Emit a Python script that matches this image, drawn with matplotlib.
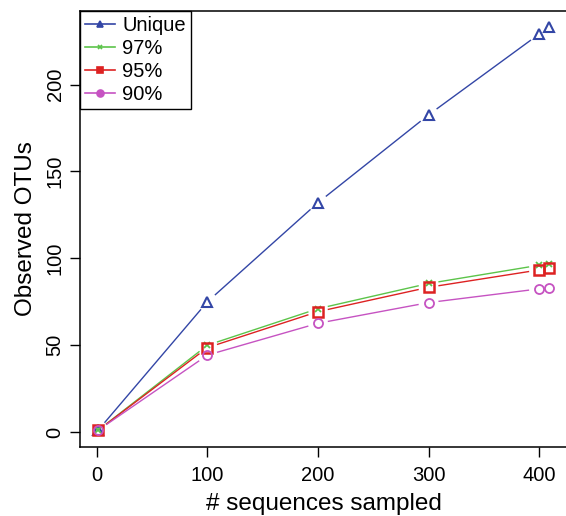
import numpy as np
import matplotlib
matplotlib.use("Agg")
import matplotlib.pyplot as plt
from matplotlib.lines import Line2D

plt.rcParams['font.family'] = ['Liberation Sans', 'DejaVu Sans']

# data
sampled = [1, 100, 200, 300, 400, 409]
unique = [1, 75, 132, 182.5, 229, 233]
otu97 = [1, 50, 71, 85.5, 96, 97]
otu95 = [1, 48.6, 69.3, 83.3, 93.3, 94.3]
otu90 = [1, 44.3, 62.6, 74.5, 82.4, 83.1]

series = [
    ("Unique", unique, "#3346A6", "^", 6.5, 1.5),
    ("97%", otu97, "#5CC44A", "x", 4.0, 1.3),
    ("95%", otu95, "#DD2222", "s", 7.0, 1.8),
    ("90%", otu90, "#C653C2", "o", 6.5, 1.3),
]

fig = plt.figure(figsize=(5.66, 5.16), dpi=100)
ax = fig.add_axes([80 / 566, (516 - 446.5) / 516, (567 - 80) / 566, (446.5 - 11) / 516])
ax.set_xlim(-15.3, 425.3)
ax.set_ylim(-8.3, 242.3)


def gapped(ax, x, y, color, gap=10):
    # R type="b": segments stop short of the points
    pts = ax.transData.transform(np.column_stack([x, y]))
    inv = ax.transData.inverted()
    for p0, p1 in zip(pts[:-1], pts[1:]):
        d = p1 - p0
        L = np.hypot(*d)
        if L <= 2 * gap:
            continue
        u = d / L
        seg = inv.transform([p0 + u * gap, p1 - u * gap])
        ax.plot(seg[:, 0], seg[:, 1], color=color, lw=1.0, solid_capstyle='butt')


handles = []
for name, vals, col, mk, ms, mew in series:
    gapped(ax, sampled, vals, col)
    ax.plot(sampled, vals, ls='none', marker=mk, ms=ms, mfc='none', mec=col, mew=mew, zorder=3)
    handles.append(Line2D([], [], color=col, lw=1.2, marker=mk,
                          ms=5 if mk != "x" else 3.5, mfc=col, mec=col, mew=1.2, label=name))

ax.set_xticks([0, 100, 200, 300, 400])
ax.set_yticks([0, 50, 100, 150, 200])
ax.tick_params(direction='out', length=7, width=1, labelsize=14.5)
ax.tick_params(axis='x', pad=7)
ax.tick_params(axis='y', pad=4)
for lab in ax.get_yticklabels():
    lab.set_rotation(90)
    lab.set_va('center')
for s in ax.spines.values():
    s.set_linewidth(1.1)

ax.set_xlabel("# sequences sampled", fontsize=17.5, labelpad=6)
ax.set_ylabel("Observed OTUs", fontsize=17.5, labelpad=6)

leg = ax.legend(handles=handles, loc='upper left', borderaxespad=0, fancybox=False,
                edgecolor='black', framealpha=1, fontsize=14.5, handlelength=1.5,
                handletextpad=0.35, labelspacing=0.2, borderpad=0.25)
leg.get_frame().set_linewidth(1.0)

fig.savefig("out.png", dpi=100)
